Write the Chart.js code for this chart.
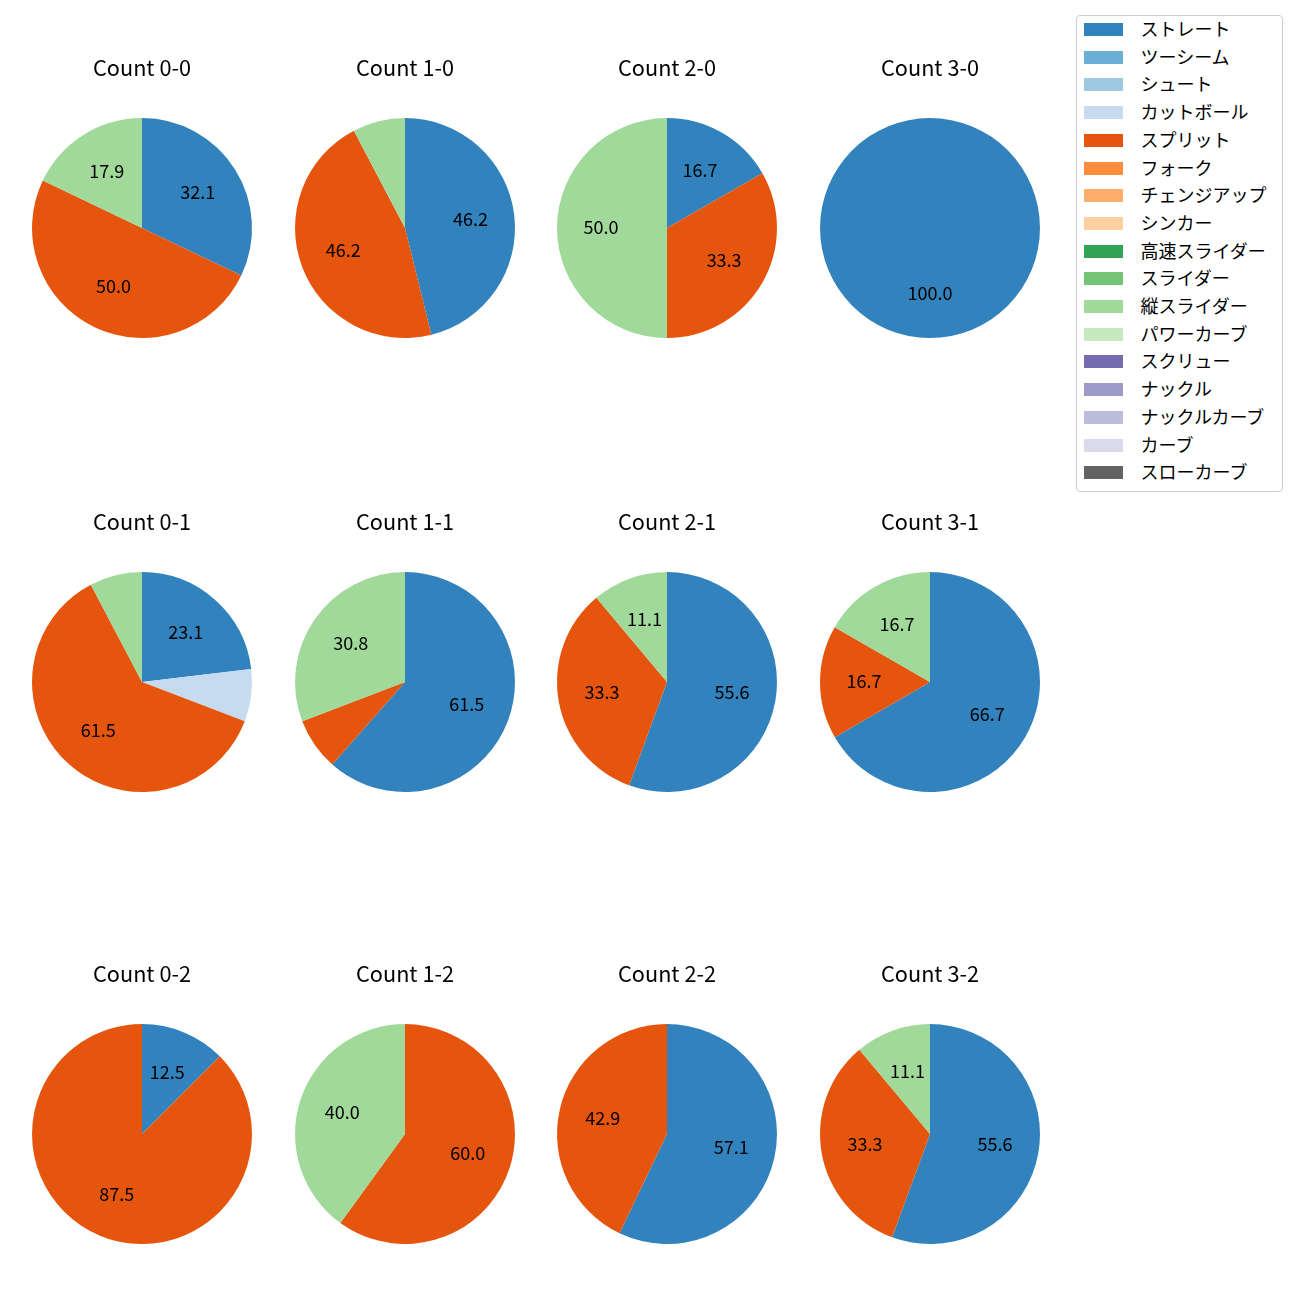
<!DOCTYPE html>
<html>
<head>
<meta charset="utf-8">
<script src="https://cdn.jsdelivr.net/npm/chart.js@4/dist/chart.umd.min.js"></script>
<style>
  html, body { margin: 0; padding: 0; background: #ffffff; }
  body { width: 1300px; height: 1300px; position: relative; overflow: hidden; font-family: "Noto Sans CJK JP", "Noto Sans", sans-serif; }
  canvas { position: absolute; }
  #legend { position: absolute; left: 1076px; top: 15px; width: 205px; height: 475px; border: 1px solid #cccccc; border-radius: 4px; background: #fff; }
  .li { position: absolute; left: 0; height: 24px; width: 205px; }
  .sw { position: absolute; left: 7px; width: 39px; height: 13px; }
  .lt { position: absolute; left: 63.5px; font-size: 18px; line-height: 24px; color: #000; white-space: nowrap; }
</style>
</head>
<body>
<div id="legend"></div>
<script>
// ---- data ----
const pitchTypes = ['ストレート','ツーシーム','シュート','カットボール','スプリット','フォーク','チェンジアップ','シンカー','高速スライダー','スライダー','縦スライダー','パワーカーブ','スクリュー','ナックル','ナックルカーブ','カーブ','スローカーブ'];
const pitchColors = ['#3182bd','#6baed6','#9ecae1','#c6dbef','#e6550d','#fd8d3c','#fdae6b','#fdd0a2','#31a354','#74c476','#a1d99b','#c7e9c0','#756bb1','#9e9ac8','#bcbddc','#dadaeb','#636363'];
const countLabels = ['0-0','1-0','2-0','3-0','0-1','1-1','2-1','3-1','0-2','1-2','2-2','3-2'];
// percentage share of each pitch type (same order as pitchTypes)
const share_0_0 = [32.1,0,0,0,50.0,0,0,0,0,0,17.9,0,0,0,0,0,0];
const share_1_0 = [46.2,0,0,0,46.2,0,0,0,0,0,7.7,0,0,0,0,0,0];
const share_2_0 = [16.7,0,0,0,33.3,0,0,0,0,0,50.0,0,0,0,0,0,0];
const share_3_0 = [100.0,0,0,0,0,0,0,0,0,0,0,0,0,0,0,0,0];
const share_0_1 = [23.1,0,0,7.7,61.5,0,0,0,0,0,7.7,0,0,0,0,0,0];
const share_1_1 = [61.5,0,0,0,7.7,0,0,0,0,0,30.8,0,0,0,0,0,0];
const share_2_1 = [55.6,0,0,0,33.3,0,0,0,0,0,11.1,0,0,0,0,0,0];
const share_3_1 = [66.7,0,0,0,16.7,0,0,0,0,0,16.7,0,0,0,0,0,0];
const share_0_2 = [12.5,0,0,0,87.5,0,0,0,0,0,0,0,0,0,0,0,0];
const share_1_2 = [0,0,0,0,60.0,0,0,0,0,0,40.0,0,0,0,0,0,0];
const share_2_2 = [57.1,0,0,0,42.9,0,0,0,0,0,0,0,0,0,0,0,0];
const share_3_2 = [55.6,0,0,0,33.3,0,0,0,0,0,11.1,0,0,0,0,0,0];
const allShares = [share_0_0,share_1_0,share_2_0,share_3_0,share_0_1,share_1_1,share_2_1,share_3_1,share_0_2,share_1_2,share_2_2,share_3_2];
const labelThreshold = 10;

// ---- layout ----
const colCenters = [142, 404.5, 667, 930];
const rowOffsets = [-1, 452.5, 905];
const FONT = '"Noto Sans CJK JP", "Noto Sans", sans-serif';

const pieLabels = {
  id: 'pieLabels',
  afterDatasetsDraw(chart) {
    const ctx = chart.ctx;
    const meta = chart.getDatasetMeta(0);
    const vals = chart.data.datasets[0].data;
    ctx.save();
    ctx.font = '18px ' + FONT;
    ctx.fillStyle = '#000';
    ctx.textAlign = 'center';
    ctx.textBaseline = 'middle';
    meta.data.forEach((arc, i) => {
      const v = vals[i];
      if (!(v >= labelThreshold)) return;
      const p = arc.getProps(['x','y','startAngle','endAngle','outerRadius'], true);
      const mid = (p.startAngle + p.endAngle) / 2;
      const r = p.outerRadius * 0.6;
      ctx.fillText(v.toFixed(1), p.x + Math.cos(mid) * r, p.y + Math.sin(mid) * r - 1);
    });
    ctx.restore();
  }
};

countLabels.forEach((lab, idx) => {
  const col = idx % 4, row = Math.floor(idx / 4);
  const cv = document.createElement('canvas');
  cv.width = 260; cv.height = 283;
  cv.style.left = (colCenters[col] - 130) + 'px';
  cv.style.top = (56 + rowOffsets[row]) + 'px';
  cv.style.width = '260px'; cv.style.height = '283px';
  document.body.appendChild(cv);
  new Chart(cv, {
    type: 'pie',
    data: {
      labels: pitchTypes,
      datasets: [{ data: allShares[idx], backgroundColor: pitchColors, borderWidth: 0 }]
    },
    options: {
      responsive: false,
      animation: false,
      devicePixelRatio: 1,
      layout: { padding: 0 },
      plugins: {
        legend: { display: false },
        tooltip: { enabled: false },
        title: {
          display: true,
          text: 'Count ' + lab,
          color: '#000',
          font: { family: FONT, size: 21.7, weight: 'normal', lineHeight: 1.2 },
          padding: { top: 0, bottom: 37 }
        }
      }
    },
    plugins: [pieLabels]
  });
});

// ---- legend ----
const leg = document.getElementById('legend');
pitchTypes.forEach((name, i) => {
  const cy = 13.5 + i * 27.7; // relative to legend box top
  const item = document.createElement('div');
  item.className = 'li';
  item.style.top = (cy - 12) + 'px';
  const sw = document.createElement('div');
  sw.className = 'sw';
  sw.style.background = pitchColors[i];
  sw.style.top = '5.5px';
  const t = document.createElement('div');
  t.className = 'lt';
  t.style.top = '-1.5px';
  t.textContent = name;
  item.appendChild(sw); item.appendChild(t);
  leg.appendChild(item);
});
</script>
</body>
</html>
